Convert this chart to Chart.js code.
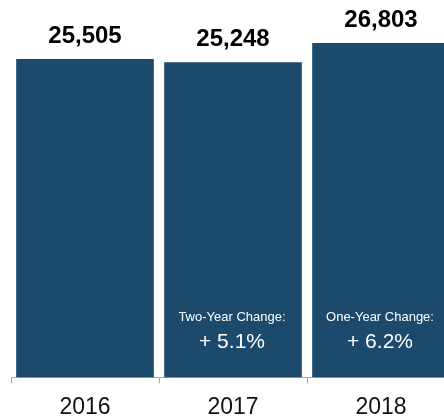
<!DOCTYPE html>
<html>
<head>
<meta charset="utf-8">
<script src="https://cdn.jsdelivr.net/npm/chart.js@4"></script>
<style>
  html, body { margin: 0; padding: 0; background: #fff; }
  #wrap { width: 444px; height: 420px; overflow: hidden; position: relative; }
  #chart { display: block; }
</style>
</head>
<body>
<div id="wrap"><canvas id="chart" width="470" height="431"></canvas></div>
<script>
const years = ['2016', '2017', '2018'];
const totals = [25505, 25248, 26803];
const changeTitles = ['', 'Two-Year Change:', 'One-Year Change:'];
const changeValues = ['', '+ 5.1%', '+ 6.2%'];

const BAR = '#1b4a6d';
const FONT = '"Liberation Sans", Arial, Helvetica, sans-serif';

// value on top of each bar, change notes inside the bars
const barText = {
  id: 'barText',
  afterDatasetsDraw(chart){
    const ctx = chart.ctx;
    const meta = chart.getDatasetMeta(0);
    const base = chart.scales.x.top;
    ctx.save();
    ctx.textAlign = 'center';
    ctx.textBaseline = 'alphabetic';
    meta.data.forEach((bar, i) => {
      ctx.fillStyle = '#000';
      ctx.font = 'bold 24px ' + FONT;
      ctx.fillText(totals[i].toLocaleString('en-US'), bar.x, bar.y - 16);
      if (changeTitles[i]){
        ctx.fillStyle = '#fff';
        ctx.font = '13px ' + FONT;
        ctx.fillText(changeTitles[i], bar.x - 1, base - 56);
        ctx.font = '21px ' + FONT;
        ctx.fillText(changeValues[i], bar.x - 1, base - 29);
      }
    });
    ctx.restore();
  }
};

new Chart(document.getElementById('chart').getContext('2d'), {
  type: 'bar',
  data: {
    labels: years,
    datasets: [{
      data: totals,
      backgroundColor: BAR,
      borderWidth: 0,
      barPercentage: 0.93,
      categoryPercentage: 1
    }]
  },
  options: {
    responsive: false,
    animation: false,
    layout: { padding: { left: 11, right: 15, top: 0, bottom: 0 } },
    plugins: {
      legend: { display: false },
      tooltip: { enabled: false }
    },
    scales: {
      x: {
        grid: {
          offset: true,
          drawOnChartArea: false,
          drawTicks: true,
          tickLength: 6,
          color: '#a8a8a8'
        },
        border: { display: true, color: '#a8a8a8', width: 1 },
        ticks: {
          color: '#111',
          padding: 10,
          font: { family: FONT, size: 23 }
        }
      },
      y: {
        display: false,
        min: 0,
        max: 30240
      }
    }
  },
  plugins: [barText]
});
</script>
</body>
</html>
